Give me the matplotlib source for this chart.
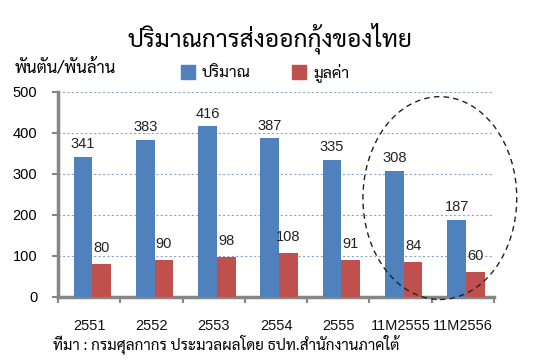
import matplotlib
matplotlib.use("Agg")
import matplotlib.pyplot as plt
from matplotlib.patches import Ellipse, Patch
import numpy as np

# data
years = ["2551", "2552", "2553", "2554", "2555", "11M2555", "11M2556"]
volume = [341, 383, 416, 387, 335, 308, 187]
value = [80, 90, 98, 108, 91, 84, 60]

plt.rcParams["font.family"] = ["Sarabun", "Liberation Sans", "DejaVu Sans"]

blue = "#4F81BD"
red = "#C0504D"
gray = "#868686"
num = "Liberation Sans"

fig = plt.figure(figsize=(5.37, 3.62), dpi=100)
ax = fig.add_axes([0.108, 0.180, 0.812, 0.566])

x = np.arange(len(years))
w = 0.3
off = 0.05  # groups sit a little right of centre in the original
ax.bar(x - w / 2 + off, volume, w, color=blue, zorder=3)
ax.bar(x + w / 2 + off, value, w, color=red, zorder=3)

for xi, v in zip(x, volume):
    ax.text(xi - w / 2 + off, v + 14, str(v), ha="center", va="bottom", fontsize=10.5,
            family=num, color="#222222")
for xi, v in zip(x, value):
    ax.text(xi + w / 2 + off, v + 22, str(v), ha="center", va="bottom", fontsize=10.5,
            family=num, color="#222222")

ax.set_ylim(0, 500)
ax.set_xlim(-0.5, len(years) - 0.5)
ax.set_yticks(range(0, 501, 100))
ax.yaxis.grid(True, linestyle=(0, (2, 2)), color="#8EA4C8", linewidth=0.8, zorder=0)
ax.set_xticks(np.arange(-0.5, len(years), 1))
ax.set_xticklabels([])
ax.set_xticks(x, minor=True)
ax.set_xticklabels(years, minor=True, fontsize=10.5, family=num, color="#111111")
ax.tick_params(axis="x", which="minor", length=0, pad=16)
ax.tick_params(axis="x", which="major", length=4, width=1.5, color=gray)
ax.tick_params(axis="y", length=4, width=1.5, color=gray, labelsize=10.5, pad=11)
for t in ax.get_yticklabels():
    t.set_family(num)
for s in ["top", "right"]:
    ax.spines[s].set_visible(False)
for s in ["left", "bottom"]:
    ax.spines[s].set_color(gray)
    ax.spines[s].set_linewidth(2.5)

ell = Ellipse((5.63, 241), 2.47, 495, fill=False, linestyle=(0, (4, 3)),
              edgecolor="#222222", linewidth=1.0, clip_on=False, zorder=4)
ax.add_patch(ell)

fig.text(0.503, 0.895, "ปริมาณการส่งออกกุ้งของไทย", ha="center", va="center",
         fontsize=17.6)
fig.text(0.028, 0.81, "พันตัน/พันล้าน", ha="left", va="center", fontsize=12)
ax.legend(handles=[Patch(color=blue, label="ปริมาณ"), Patch(color=red, label="มูลค่า")],
          loc="lower left", bbox_to_anchor=(0.26, 1.0), ncol=2, frameon=False,
          fontsize=11.5, handlelength=0.9, handleheight=0.9, columnspacing=2.6,
          handletextpad=0.4, borderaxespad=0.2)
fig.text(0.098, 0.05, "ที่มา : กรมศุลกากร ประมวลผลโดย ธปท.สำนักงานภาคใต้",
         ha="left", va="center", fontsize=11)

fig.savefig("out.png", dpi=100)
